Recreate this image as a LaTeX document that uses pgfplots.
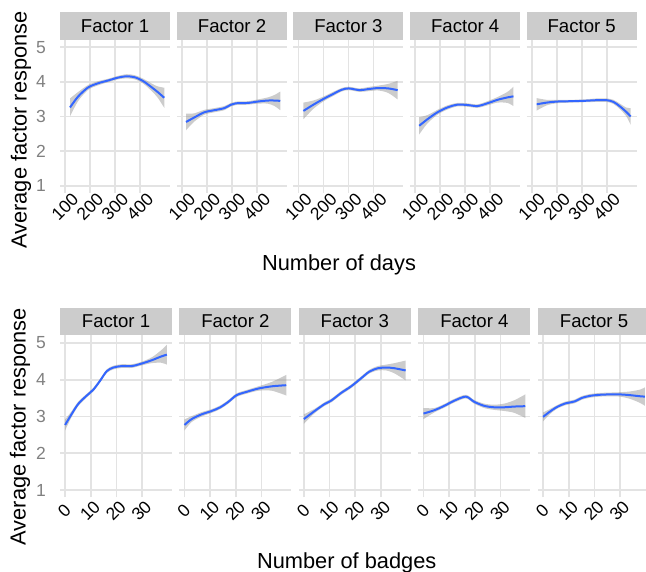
\documentclass[border=0pt]{standalone}
\usepackage{pgfplots}
\pgfplotsset{compat=1.18}
\usepackage{pgfplotstable}
\usepgfplotslibrary{fillbetween}
\usepackage{fontspec}
\setmainfont{Liberation Sans}
\definecolor{stripgray}{RGB}{204,204,204}
\definecolor{gridgray}{RGB}{227,227,227}
\definecolor{lineblue}{HTML}{3366FF}
\definecolor{ribbongray}{RGB}{153,153,153}
\definecolor{ylabgray}{RGB}{128,128,128}

% ---------- Number of days ----------
\pgfplotstableread{
x y lo hi
120 3.26 3.00 3.52
153 3.58 3.45 3.71
193 3.84 3.77 3.91
233 3.96 3.90 4.02
273 4.04 3.99 4.09
311 4.12 4.07 4.17
347 4.16 4.10 4.22
380 4.13 4.07 4.19
413 4.02 3.95 4.09
447 3.84 3.73 3.95
470 3.71 3.55 3.87
497 3.54 3.25 3.83
}\dA
\pgfplotstableread{
x y lo hi
116 2.84 2.60 3.08
149 2.97 2.85 3.09
189 3.12 3.05 3.19
229 3.18 3.12 3.24
269 3.24 3.18 3.30
296 3.34 3.29 3.39
316 3.38 3.33 3.43
363 3.39 3.34 3.44
403 3.43 3.37 3.49
443 3.46 3.37 3.55
470 3.46 3.30 3.62
493 3.45 3.18 3.72
}\dB
\pgfplotstableread{
x y lo hi
120 3.16 2.92 3.40
160 3.34 3.22 3.46
199 3.50 3.43 3.57
239 3.65 3.59 3.71
273 3.77 3.72 3.82
301 3.81 3.76 3.86
345 3.76 3.71 3.81
379 3.79 3.73 3.85
419 3.82 3.75 3.89
459 3.81 3.68 3.94
497 3.76 3.49 4.03
}\dC
\pgfplotstableread{
x y lo hi
116 2.73 2.48 2.98
149 2.92 2.80 3.04
189 3.12 3.05 3.19
229 3.26 3.20 3.32
269 3.34 3.29 3.39
309 3.33 3.28 3.38
349 3.30 3.25 3.35
389 3.38 3.32 3.44
429 3.48 3.40 3.56
469 3.55 3.39 3.71
493 3.58 3.30 3.86
}\dD
\pgfplotstableread{
x y lo hi
120 3.35 3.17 3.53
160 3.40 3.32 3.48
200 3.43 3.38 3.48
253 3.44 3.40 3.48
307 3.45 3.41 3.49
360 3.47 3.42 3.52
400 3.47 3.42 3.52
427 3.42 3.36 3.48
453 3.29 3.21 3.37
477 3.14 3.02 3.26
496 3.00 2.76 3.24
}\dE

% ---------- Number of badges ----------
\pgfplotstableread{
x y lo hi
0 2.77 2.62 2.92
2.5 3.06 2.98 3.14
5.1 3.34 3.28 3.40
8.3 3.56 3.51 3.61
11 3.73 3.68 3.78
13.6 3.97 3.92 4.02
16.2 4.23 4.18 4.28
18.8 4.33 4.28 4.38
22.1 4.37 4.32 4.42
26 4.37 4.32 4.42
29.9 4.44 4.39 4.49
33.8 4.53 4.45 4.61
37.4 4.63 4.46 4.80
39.6 4.68 4.41 4.95
}\bA
\pgfplotstableread{
x y lo hi
0 2.77 2.62 2.92
2.8 2.93 2.85 3.01
6.7 3.06 3.00 3.12
10.6 3.15 3.10 3.20
13.9 3.25 3.20 3.30
17.1 3.40 3.35 3.45
20.3 3.58 3.53 3.63
24.2 3.67 3.62 3.72
28.8 3.76 3.70 3.82
34 3.82 3.70 3.94
39.6 3.85 3.57 4.13
}\bB
\pgfplotstableread{
x y lo hi
0 2.93 2.80 3.06
4.2 3.15 3.09 3.21
8.1 3.34 3.29 3.39
10.6 3.43 3.38 3.48
14.5 3.64 3.59 3.69
18.4 3.82 3.77 3.87
22.3 4.04 3.99 4.09
25.5 4.22 4.17 4.27
28.8 4.31 4.25 4.37
32.1 4.33 4.25 4.41
35.3 4.31 4.17 4.45
39.6 4.25 3.98 4.52
}\bC
\pgfplotstableread{
x y lo hi
0 3.08 2.93 3.23
4.2 3.17 3.11 3.23
8.1 3.29 3.24 3.34
12 3.43 3.38 3.48
16.5 3.54 3.49 3.59
19.7 3.40 3.35 3.45
23.6 3.29 3.23 3.35
27.5 3.25 3.18 3.32
31.4 3.25 3.15 3.35
35.3 3.27 3.10 3.44
39.6 3.28 2.96 3.60
}\bD
\pgfplotstableread{
x y lo hi
0 2.99 2.87 3.11
2.6 3.13 3.06 3.20
5.2 3.25 3.20 3.30
8.4 3.35 3.30 3.40
12.3 3.41 3.36 3.46
14.9 3.50 3.45 3.55
18.2 3.56 3.51 3.61
22.1 3.59 3.54 3.64
26 3.60 3.55 3.65
29.9 3.60 3.54 3.66
33.8 3.58 3.48 3.68
37.7 3.55 3.37 3.73
39.6 3.54 3.29 3.79
}\bE

\pgfplotsset{
  panel/.style={
    scale only axis,
    axis line style={draw=none},
    tick style={draw=none},
    major tick length=0pt,
    grid=major,
    major grid style={line width=1.8pt, color=gridgray},
    ymin=0.8, ymax=5.2,
    ytick={1,2,3,4,5},
    yticklabels={},
    /pgf/number format/assume math mode=true,
    yticklabel style={font=\fontsize{17.5}{17.5}\selectfont, text=ylabgray, inner sep=0pt, anchor=east, xshift=-14pt},
    xticklabel style={font=\fontsize{17.5}{17.5}\selectfont, text=black, inner sep=0pt, yshift=-14pt, rotate=45, anchor=center},
    anchor=north west,
  },
  toprow/.style={panel, width=110pt, height=152.3pt, xmin=80, xmax=520,
    xtick={100,200,300,400},
    every axis title/.style={at={(0.5,1)}, anchor=south, fill=stripgray, inner sep=0pt,
      minimum width=110pt, minimum height=28pt, font=\fontsize{18.6}{18.6}\selectfont, text=black}},
  botrow/.style={panel, width=112pt, height=162pt, xmin=-1.98, xmax=41.6,
    xtick={0,10,20,30},
    xticklabel style={yshift=1pt},
    every axis title/.style={at={(0.5,1)}, anchor=south, fill=stripgray, inner sep=0pt,
      minimum width=112pt, minimum height=27.5pt, font=\fontsize{18.6}{18.6}\selectfont, text=black}},
  firstcol/.style={yticklabels={1,2,3,4,5}},
}

\newcommand{\drawpanel}[3]{%
\begin{axis}[#1, title={#3}]
\addplot[draw=none, smooth, name path=hi] table[x=x,y=hi]{#2};
\addplot[draw=none, smooth, name path=lo] table[x=x,y=lo]{#2};
\addplot[fill=ribbongray, fill opacity=0.5, draw=none] fill between[of=hi and lo];
\addplot[color=lineblue, line width=2pt, smooth] table[x=x,y=y]{#2};
\end{axis}}

\begin{document}
\begin{tikzpicture}
% top row
\drawpanel{toprow, firstcol, at={(60pt,-40.3pt)}}{\dA}{Factor 1}
\drawpanel{toprow, at={(177pt,-40.3pt)}}{\dB}{Factor 2}
\drawpanel{toprow, at={(293.4pt,-40.3pt)}}{\dC}{Factor 3}
\drawpanel{toprow, at={(410.2pt,-40.3pt)}}{\dD}{Factor 4}
\drawpanel{toprow, at={(526.7pt,-40.3pt)}}{\dE}{Factor 5}
% bottom row
\drawpanel{botrow, firstcol, at={(60pt,-335.5pt)}}{\bA}{Factor 1}
\drawpanel{botrow, at={(179.4pt,-335.5pt)}}{\bB}{Factor 2}
\drawpanel{botrow, at={(298.8pt,-335.5pt)}}{\bC}{Factor 3}
\drawpanel{botrow, at={(418.4pt,-335.5pt)}}{\bD}{Factor 4}
\drawpanel{botrow, at={(538pt,-335.5pt)}}{\bE}{Factor 5}
% axis titles
\node[rotate=90, anchor=center, font=\fontsize{21.8}{22}\selectfont] at (21pt,-130pt) {Average factor response};
\node[rotate=90, anchor=center, font=\fontsize{21.8}{22}\selectfont] at (20pt,-426.7pt) {Average factor response};
\node[anchor=base, font=\fontsize{21.8}{22}\selectfont, inner sep=0pt] at (339pt,-271pt) {Number of days};
\node[anchor=base, font=\fontsize{21.8}{22}\selectfont, inner sep=0pt] at (346.7pt,-568.3pt) {Number of badges};
\pgfresetboundingbox
\path[use as bounding box] (0pt,0pt) rectangle (646pt,-572pt);
\end{tikzpicture}
\end{document}
